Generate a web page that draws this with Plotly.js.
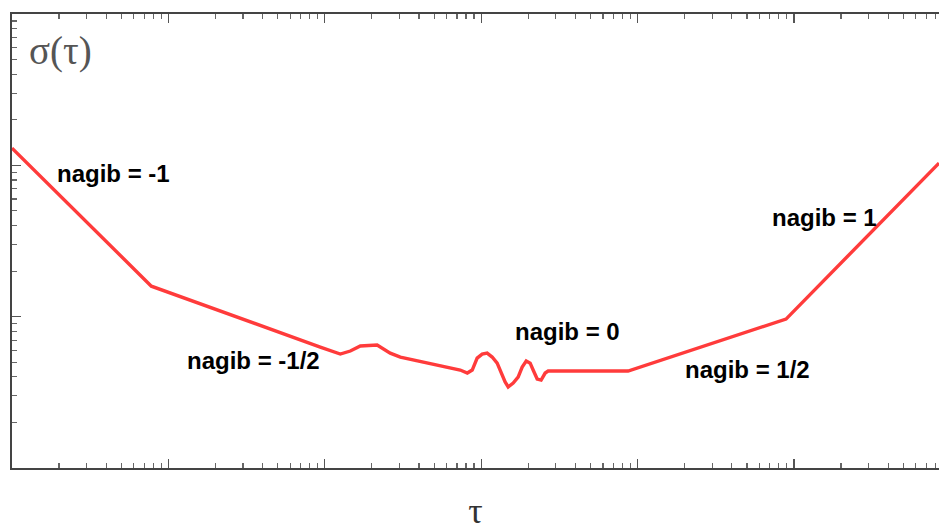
<!DOCTYPE html>
<html>
<head>
<meta charset="utf-8">
<script src="https://cdn.plot.ly/plotly-3.0.1.min.js"></script>
<style>html,body{margin:0;padding:0;background:#fff;}#chart{width:939px;height:531px;}</style>
</head>
<body>
<div id="chart"></div>
<script>
// Data (log-log axes)
const tau =   [1.0, 7.78, 93.5, 125.6, 145.6, 168.7, 216, 262, 304, 607, 734, 815, 876, 942, 1014, 1091, 1175, 1265, 1362, 1422, 1488, 1601, 1722, 1828, 1940, 2056, 2148, 2280, 2416, 2564, 2680, 8690, 88900, 845000];
const sigma = [130, 15.9, 6.30, 5.66, 5.93, 6.40, 6.49, 5.74, 5.41, 4.65, 4.44, 4.24, 4.44, 5.32, 5.66, 5.74, 5.41, 4.93, 4.11, 3.70, 3.43, 3.64, 3.99, 4.65, 5.09, 4.93, 4.44, 3.87, 3.81, 4.24, 4.37, 4.37, 9.64, 103.5];

const regimeLabels = ["nagib = -1", "nagib = -1/2", "nagib = 0", "nagib = 1/2", "nagib = 1"];
// label centres as fractions of the plot area
const labelX = [0.109, 0.260, 0.599, 0.793, 0.876];
const labelY = [0.648, 0.236, 0.300, 0.218, 0.551];

const xDecades = [1, 10, 100, 1e3, 1e4, 1e5, 1e6];
const yDecades = [1, 10, 100, 1000];
function minors(decs){const out=[];decs.forEach(d=>{for(let k=2;k<=9;k++)out.push(d*k);});return out;}

const trace = {
  x: tau, y: sigma, type: 'scatter', mode: 'lines',
  line: {color: '#ff3b3b', width: 3.4},
  hoverinfo: 'skip'
};

const annotations = regimeLabels.map((t,i)=>({
  text: t, x: labelX[i], y: labelY[i],
  xref: 'paper', yref: 'paper', showarrow: false,
  font: {family: 'Liberation Sans, Arial, sans-serif', size: 24, color: '#000', weight: 'bold'},
  xanchor: 'center', yanchor: 'middle'
}));
annotations.push({
  text: 'σ(τ)', xref: 'paper', yref: 'paper', x: 0.016, y: 0.918, xanchor: 'left', yanchor: 'middle',
  showarrow: false, font: {family: 'Liberation Serif, Times New Roman, serif', size: 39, color: '#555'}
});

const axCommon = {
  type: 'log', showgrid: false, zeroline: false, showticklabels: false,
  showline: true, linecolor: '#444', linewidth: 2,
  ticks: 'inside', ticklen: 9, tickwidth: 1.3, tickcolor: '#555',
  tickmode: 'array'
};

const layout = {
  width: 939, height: 531,
  margin: {l: 12, r: 0, t: 14, b: 63},
  paper_bgcolor: '#fff', plot_bgcolor: '#fff',
  showlegend: false,
  xaxis: Object.assign({}, axCommon, {
    range: [0, 5.927], tickvals: xDecades, mirror: 'ticks',
    minor: {ticks: 'inside', ticklen: 5, tickwidth: 1.2, tickcolor: '#666', tickmode: 'array', tickvals: minors(xDecades)},
    title: {text: 'τ', font: {family: 'Liberation Serif, Times New Roman, serif', size: 36, color: '#333'}, standoff: 39}
  }),
  yaxis: Object.assign({}, axCommon, {
    range: [0, 3], tickvals: yDecades, mirror: false,
    minor: {ticks: 'inside', ticklen: 5, tickwidth: 1.2, tickcolor: '#666', tickmode: 'array', tickvals: minors(yDecades)}
  }),
  annotations: annotations
};

Plotly.newPlot('chart', [trace], layout, {staticPlot: true, displayModeBar: false});
</script>
</body>
</html>
